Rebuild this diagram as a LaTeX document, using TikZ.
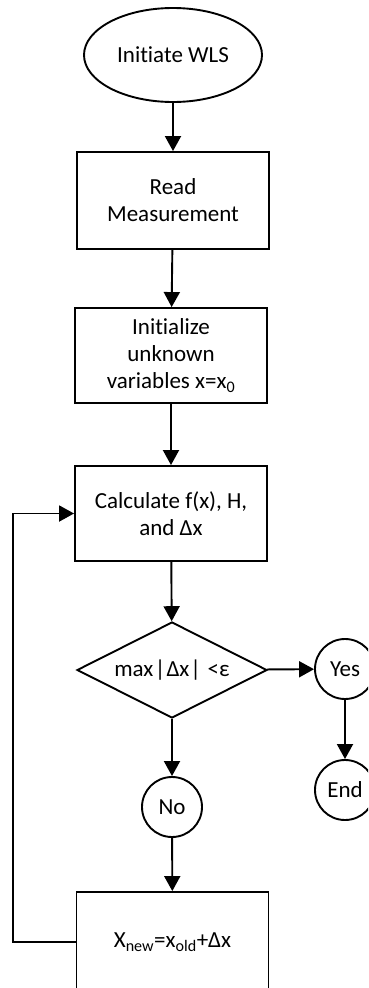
\documentclass[tikz,border=0pt]{standalone}
\usepackage{fontspec}
\setmainfont{Carlito}[Ligatures={NoCommon}]
\usetikzlibrary{shapes.geometric,arrows.meta}
\begin{document}
\begin{tikzpicture}[x=1pt,y=-1pt,
  every node/.style={font=\fontsize{23}{27}\selectfont, line width=1.9pt, draw, align=center, inner sep=0pt},
  procbox/.style={rectangle, minimum width=192pt},
  term/.style={ellipse, minimum width=178pt, minimum height=94pt},
  decide/.style={diamond, aspect=2, minimum width=190pt, minimum height=96pt},
  conn/.style={circle, minimum size=60pt},
  arr/.style={line width=1.9pt, -{Triangle[length=15pt,width=16pt]}}]
  \useasboundingbox (0,0) rectangle (368,988);
  \clip (0,0) rectangle (368,988);

  % main column
  \node[term] (start) at (173,55) {Initiate WLS};
  \node[procbox, minimum height=97pt] (read) at (173,200.5) {Read\\Measurement};
  \node[procbox, minimum height=95pt] (init) at (171,355.5) {Initialize\\unknown\\variables x=x\textsubscript{0}};
  \node[procbox, minimum height=95pt] (calc) at (171,513.5) {Calculate f(x), H,\\and Δx};
  \node[decide] (dec) at (172,670) {max\kern1.5pt|\kern1pt Δx\kern1pt|\kern1.5pt\ <ε};
  \node[conn] (no) at (172,807) {No};
  \node[procbox, minimum height=100pt] (upd) at (172.5,942) {X\textsubscript{new}=x\textsubscript{old}+Δx};

  % exit branch
  \node[conn] (yes) at (345,669) {Yes};
  \node[conn] (end) at (345,790) {End};

  % connectors
  \draw[arr] (start) -- (read);
  \draw[arr] (read) -- (init);
  \draw[arr] (init) -- (calc);
  \draw[arr] (calc) -- (dec);
  \draw[arr] (dec) -- (no);
  \draw[arr] (no) -- (upd);
  \draw[arr] (dec) -- (yes);
  \draw[arr] (yes) -- (end);

  % loop back to the update step
  \coordinate (back) at (13,942);
  \draw[arr] (upd.west) -- (back) |- (calc.west);
\end{tikzpicture}
\end{document}
